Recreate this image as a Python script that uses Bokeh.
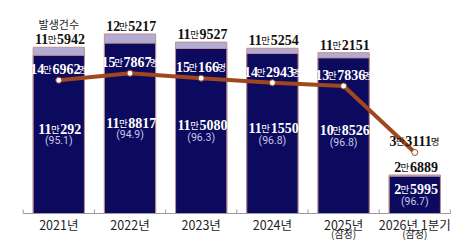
from bokeh.plotting import figure
from bokeh.models import Range1d, ColumnDataSource
from bokeh.core.properties import value
from bokeh.embed import file_html
from bokeh.resources import INLINE

# ---- data ----
categories = ["2021년", "2022년", "2023년", "2024년", "2025년\n(잠정)", "2026년 1분기\n(잠정)"]
total_cases = [115942, 125217, 119527, 115254, 112151, 26889]
arrested = [110292, 118817, 115080, 111550, 108526, 25995]
arrest_rate = [95.1, 94.9, 96.3, 96.8, 96.8, 96.7]
victims = [146962, 157867, 150166, 142943, 137836, 33111]
series_note = "발생건수"

# ---- layout / style ----
W, H = 473, 240
PX0, STEP = 58.3, 71.2
BASE_PX = 213
UPX = 697.4          # bar units per pixel
UPX2 = 1575.0        # line units per pixel
ZERO2_PX = 173

NAVY = "#0c0a5e"
LAV = "#b3acd2"
LINE = "#a0471f"
EDGE = "#c09090"

NUM_FONT = "Liberation Sans Narrow"
KR_FONT = "Noto Sans CJK KR"
PCT_FONT = "Roboto"

xs = list(range(len(categories)))

p = figure(width=W, height=H, output_backend="svg", toolbar_location=None,
           x_range=Range1d(-PX0 / STEP, (W - PX0) / STEP),
           y_range=Range1d(-(H - BASE_PX) * UPX, BASE_PX * UPX),
           x_axis_type=None, y_axis_type=None, min_border=0,
           background_fill_color="white", border_fill_color="white")
p.outline_line_color = None
p.grid.visible = False
p.extra_y_ranges = {"ppl": Range1d(-(H - ZERO2_PX) * UPX2, ZERO2_PX * UPX2)}

BW = 0.72
p.vbar(x=xs, top=total_cases, bottom=0, width=BW, fill_color=LAV,
       line_color=EDGE, line_width=1)
p.vbar(x=xs, top=arrested, bottom=0, width=BW, fill_color=NAVY,
       line_color=EDGE, line_width=1)

# baseline and ticks
edges = [i - 0.5 for i in range(len(categories) + 1)]
p.segment(x0=[edges[0]], y0=[0], x1=[edges[-1]], y1=[0], line_color="#9a9a9a", line_width=1)
p.segment(x0=edges, y0=[0] * len(edges), x1=edges, y1=[4 * UPX] * len(edges),
          line_color="#9a9a9a", line_width=1)

# victims line
p.line(x=xs, y=victims, y_range_name="ppl", line_color=LINE, line_width=4)
p.scatter(x=xs, y=victims, y_range_name="ppl", size=6, fill_color="white",
          line_color=LINE, line_width=1)


def compound(xv, yv, vals, center_off, colors, tail=None, fs=14, small=9.5, yr="default"):
    dw = 0.456 * fs
    mw = small * 0.98
    cols = {k: dict(x=[], y=[], text=[], xo=[], yo=[], c=[]) for k in ("big", "small")}
    for x, y, v, co, c in zip(xv, yv, vals, center_off, colors):
        pre, suf = str(v // 10000), str(v % 10000)
        wp, ws = len(pre) * dw, len(suf) * dw
        wt = small * 0.98 if tail else 0
        left = -(wp + mw + ws + wt) / 2
        yb = co + 1
        pieces = [("big", pre, left), ("small", "만", left + wp),
                  ("big", suf, left + wp + mw)]
        if tail:
            pieces.append(("small", tail, left + wp + mw + ws))
        for kind, t, xo in pieces:
            d = cols[kind]
            d["x"].append(x); d["y"].append(y); d["text"].append(t)
            d["xo"].append(xo); d["yo"].append(yb); d["c"].append(c)
    p.text(x="x", y="y", text="text", x_offset="xo", y_offset="yo", text_color="c",
           source=ColumnDataSource(cols["big"]), text_font=value(NUM_FONT),
           text_font_size=f"{fs}px", text_font_style="bold", text_align="left",
           text_baseline="alphabetic", y_range_name=yr)
    p.text(x="x", y="y", text="text", x_offset="xo", y_offset="yo", text_color="c",
           source=ColumnDataSource(cols["small"]), text_font=value(KR_FONT),
           text_font_size=f"{small}px", text_align="left",
           text_baseline="alphabetic", y_range_name=yr)


n = len(categories)
# totals above bars
compound(xs, total_cases, total_cases, [-9] * n, ["#111111"] * n)
# arrested inside navy bars (centered vertically)
mid = [a / 2 for a in arrested]
compound(xs, mid, arrested, [-6.5] * n, ["white"] * n)
p.text(x=xs, y=mid, text=[f"({r})" for r in arrest_rate], y_offset=6.5,
       text_font=value(PCT_FONT), text_font_size="10.5px", text_color="#c9c7e6",
       text_align="center", text_baseline="middle")
# victims labels
vcol = ["white"] * (n - 1) + ["#111111"]
compound(xs, victims, victims, [-12] * n, vcol, tail="명", yr="ppl")

# series note
p.text(x=[xs[0]], y=[total_cases[0]], text=[series_note], y_offset=-23,
       text_font=value(KR_FONT), text_font_size="11px", text_color="#222222",
       text_align="center", text_baseline="middle")

# category labels
line1 = [c.split("\n")[0] for c in categories]
line2 = [c.split("\n")[1] if "\n" in c else "" for c in categories]
p.text(x=xs, y=[0] * n, text=line1, y_offset=10.5, text_font=value(KR_FONT),
       text_font_size="12.5px", text_color="#222222", text_align="center",
       text_baseline="middle")
p.text(x=xs, y=[0] * n, text=line2, y_offset=19.5, text_font=value(KR_FONT),
       text_font_size="10px", text_color="#222222", text_align="center",
       text_baseline="middle")

open("out.html", "w").write(file_html(p, INLINE))
